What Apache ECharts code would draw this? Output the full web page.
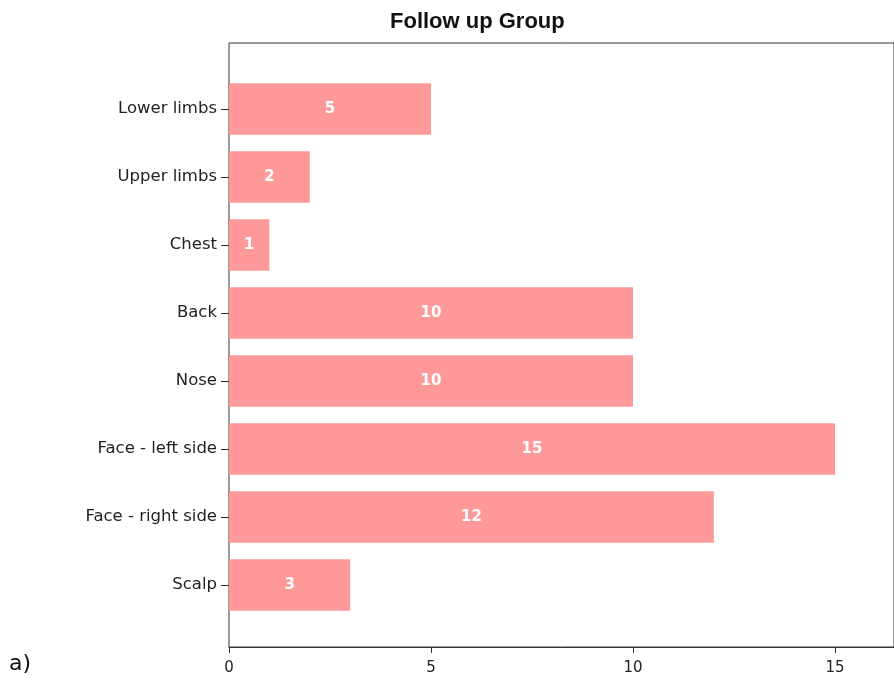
<!DOCTYPE html>
<html>
<head>
<meta charset="utf-8">
<script src="https://cdn.jsdelivr.net/npm/echarts@6/dist/echarts.min.js"></script>
<style>
  html, body { margin: 0; padding: 0; background: #fff; }
  #chart { width: 894px; height: 681px; }
</style>
</head>
<body>
<div id="chart"></div>
<script>
// Body sites, listed top to bottom
const sites = ['Lower limbs', 'Upper limbs', 'Chest', 'Back', 'Nose', 'Face - left side', 'Face - right side', 'Scalp'];
// Number of cases per site
const counts = [5, 2, 1, 10, 10, 15, 12, 3];
const titleText = 'Follow up Group';
const panelTag = 'a)';

const axisColor = '#333';
const textColor = '#222';

const chart = echarts.init(document.getElementById('chart'), null, { renderer: 'canvas' });
chart.setOption({
  animation: false,
  title: {
    text: titleText,
    left: 385,
    top: 6,
    textStyle: { fontFamily: 'Liberation Sans', fontWeight: 'bold', fontSize: 22, color: '#111' }
  },
  graphic: [{
    type: 'text',
    left: 9,
    top: 653,
    style: { text: panelTag, font: '22px "DejaVu Sans"', fill: '#111' }
  }],
  grid: [
    // bars
    { left: 229, right: 0, top: 75, bottom: 62 },
    // outer frame
    { left: 229, right: -5, top: 43, bottom: 34, show: true, borderColor: axisColor, borderWidth: 1, backgroundColor: 'transparent', z: 0 }
  ],
  xAxis: [{
    type: 'value',
    gridIndex: 0,
    min: 0,
    max: 16.46,
    interval: 5,
    offset: 28,
    axisLine: { show: true, lineStyle: { color: axisColor, width: 1 } },
    axisTick: { show: true, length: 6, lineStyle: { color: axisColor } },
    axisLabel: { showMaxLabel: false, margin: 14, fontFamily: 'DejaVu Sans', fontSize: 15, color: textColor },
    splitLine: { show: false }
  }, {
    type: 'value', gridIndex: 1, show: false
  }],
  yAxis: [{
    type: 'category',
    gridIndex: 0,
    data: sites,
    inverse: true,
    axisLine: { show: false },
    axisTick: { show: true, alignWithLabel: true, length: 8, lineStyle: { color: axisColor } },
    axisLabel: { margin: 12, fontFamily: 'DejaVu Sans', fontSize: 16.5, color: textColor }
  }, {
    type: 'category', gridIndex: 1, show: false, data: ['']
  }],
  series: [{
    type: 'bar',
    xAxisIndex: 0,
    yAxisIndex: 0,
    data: counts,
    barCategoryGap: '24%',
    itemStyle: { color: '#ff9999' },
    label: {
      show: true,
      position: 'inside',
      color: '#fff',
      fontFamily: 'DejaVu Sans',
      fontWeight: 'bold',
      fontSize: 15
    }
  }]
});
</script>
</body>
</html>
